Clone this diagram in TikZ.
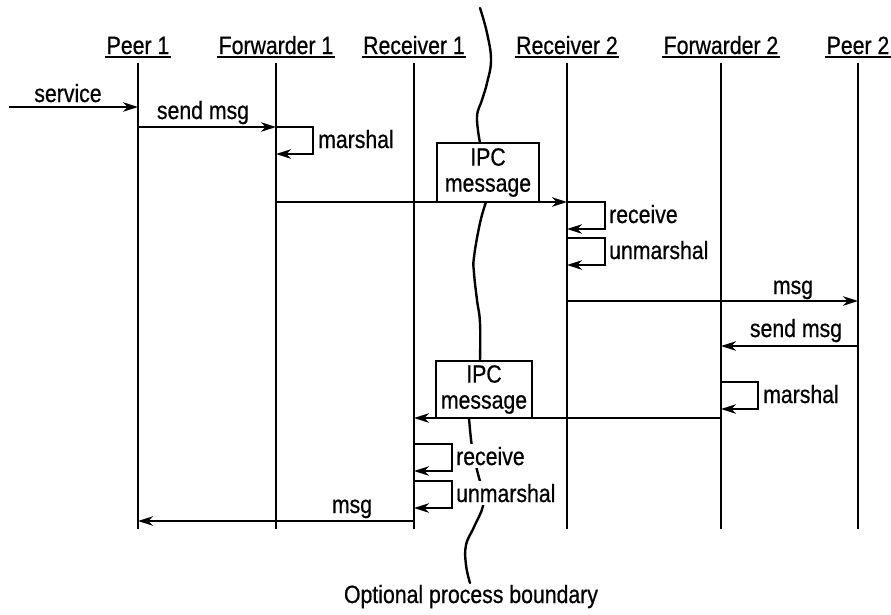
\documentclass[tikz,border=0pt]{standalone}
\usepackage{fontspec}
\setmainfont[FakeStretch=0.85,FakeBold=0.6]{Liberation Sans}
\usetikzlibrary{arrows.meta}
\begin{document}
\begin{tikzpicture}[x=1pt,y=-1pt,
  every node/.style={font=\fontsize{25}{26}\selectfont},
  life/.style={line width=1.6pt},
  msg/.style={line width=1.7pt,-{Stealth[length=15pt,width=9.5pt,inset=4.5pt]}},
  head/.style={anchor=base,inner xsep=1.5pt,inner ysep=3pt,text depth=0pt,
    append after command={(\tikzlastnode.south west) edge[line width=1.5pt] (\tikzlastnode.south east)}},
  lbl/.style={anchor=base,inner sep=0pt},
  side/.style={anchor=base west,inner xsep=0pt,inner ysep=2.5pt,fill=white},
  ipc/.style={draw,fill=white,line width=1.6pt,align=center,inner sep=0pt},
  bound/.style={line width=2.4pt,line cap=round}]
\useasboundingbox (0,0) rectangle (891,614);

% boundary curve
\draw[bound] plot[smooth,tension=0.7] coordinates {(480,8) (487,33) (491,60) (487,83) (482,100) (477,117) (480,143)};
\draw[bound] plot[smooth,tension=0.7] coordinates {(486,202) (480,223) (474,257) (474,273) (477,300) (480,323) (480,361)};
\draw[bound] plot[smooth,tension=0.7] coordinates {(469,418) (472,447) (477,470) (482,490) (483,506) (474,527) (466,545) (466,565) (470,583)};

% headers
\node[head] (p1) at (138,54) {Peer 1};
\node[head] (f1) at (276,54) {Forwarder 1};
\node[head] (r1) at (414,54) {Receiver 1};
\node[head] (r2) at (567,54) {Receiver 2};
\node[head] (f2) at (721,54) {Forwarder 2};
\node[head] (p2) at (858,54) {Peer 2};

% lifeline ends
\coordinate (p1b) at (138,529);
\coordinate (f1b) at (276,529);
\coordinate (r1b) at (414,529);
\coordinate (r2b) at (567,529);
\coordinate (f2b) at (721,529);
\coordinate (p2b) at (858,529);
\foreach \n in {p1,f1,r1,r2,f2,p2}
  \draw[life] ([yshift=-6pt]\n.south) -- (\n b);

% IPC boxes
\node[ipc,minimum width=102pt,minimum height=59pt] (ipc1) at (488,172.5) {IPC\\message};
\node[ipc,minimum width=96pt,minimum height=57pt] (ipc2) at (484,389.5) {IPC\\message};

% service
\coordinate (src) at (9,107);
\draw[msg] (src) -- (p1 |- src);
\node[lbl] (lservice) at (68,102) {service};

% send msg
\draw[msg] (p1 |- 0,127) -- (f1 |- 0,127);
\node[lbl] (lsend1) at (203,119) {send msg};

% marshal on F1
\draw[msg] (f1 |- 0,127) -- ++(37,0) |- (f1 |- 0,154);
\node[side] (lmar1) at (318,148) {marshal};

% IPC 1
\draw[msg] (f1 |- 0,202) -- (r2 |- 0,202);

% receive / unmarshal on R2
\draw[msg] (r2 |- 0,202) -- ++(38,0) |- (r2 |- 0,229);
\node[side] (lrec2) at (609,223) {receive};
\draw[msg] (r2 |- 0,238) -- ++(38,0) |- (r2 |- 0,265);
\node[side] (lunm2) at (609,259) {unmarshal};

% msg to Peer 2
\draw[msg] (r2 |- 0,301) -- (p2 |- 0,301);
\node[lbl] (lmsg2) at (793,294) {msg};

% send msg from Peer 2
\draw[msg] (p2 |- 0,346) -- (f2 |- 0,346);
\node[lbl] (lsend2) at (796,337) {send msg};

% marshal on F2
\draw[msg] (f2 |- 0,382) -- ++(37,0) |- (f2 |- 0,409);
\node[side] (lmar2) at (763,403) {marshal};

% IPC 2
\draw[msg] (f2 |- 0,418) -- (r1 |- 0,418);

% receive / unmarshal on R1
\draw[msg] (r1 |- 0,444) -- ++(38,0) |- (r1 |- 0,471);
\node[side] (lrec1) at (456,465) {receive};
\draw[msg] (r1 |- 0,481) -- ++(38,0) |- (r1 |- 0,508);
\node[side] (lunm1) at (456,502) {unmarshal};

% msg to Peer 1
\draw[msg] (r1 |- 0,521) -- (p1 |- 0,521);
\node[lbl] (lmsg1) at (352,513) {msg};

\node[lbl] (lbound) at (471,603) {Optional process boundary};
\end{tikzpicture}
\end{document}
